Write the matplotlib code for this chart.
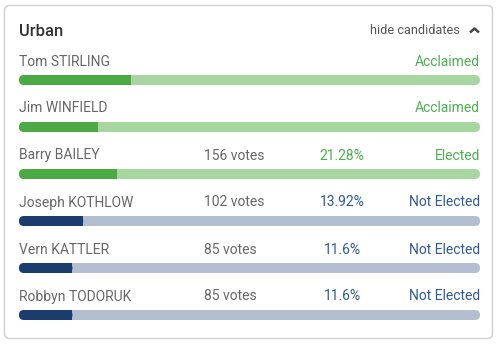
import matplotlib
matplotlib.use("Agg")
import matplotlib.pyplot as plt
from matplotlib.patches import FancyBboxPatch, Rectangle

plt.rcParams['font.family'] = ['Roboto', 'DejaVu Sans']

# Données
titre = "Urban"
candidats = ["Tom STIRLING", "Jim WINFIELD", "Barry BAILEY", "Joseph KOTHLOW", "Vern KATTLER", "Robbyn TODORUK"]
votes = [None, None, 156, 102, 85, 85]
pourcents = [24.3, 17.1, 21.28, 13.92, 11.6, 11.6]
pourcents_txt = [None, None, "21.28%", "13.92%", "11.6%", "11.6%"]
statuts = ["Acclaimed", "Acclaimed", "Elected", "Not Elected", "Not Elected", "Not Elected"]

# Couleurs
vert, vert_clair, vert_txt = "#4caa44", "#a8d6a1", "#4caf50"
bleu, bleu_clair, bleu_txt = "#1a3d6d", "#b3bfd1", "#2d5a94"
gris = "#666666"

fig = plt.figure(figsize=(4.99, 3.45), dpi=100)
ax = fig.add_axes([0, 0, 1, 1])
ax.set_xlim(0, 499)
ax.set_ylim(345, 0)
ax.axis("off")

# Carte
ax.add_patch(FancyBboxPatch((4.5, 5.5), 488, 333, boxstyle="round,pad=0,rounding_size=5",
                            fc="white", ec="#cfcfcf", lw=1.0))
ax.text(19, 31.5, titre, fontsize=12, fontweight="medium", color="#333333", va="center")
ax.text(460, 30.5, "hide candidates", fontsize=9.2, color="#555555", va="center", ha="right")
ax.plot([470, 474.5, 479], [32.5, 28.5, 32.5], color="#444444", lw=1.8, solid_capstyle="butt")

x0, x1 = 19, 480
larg = x1 - x0
h = 10
for i, nom in enumerate(candidats):
    y_txt = 61.5 + i * 47
    y_bar = y_txt + 13.5
    elu = statuts[i] != "Not Elected"
    c_fill, c_track, c_txt = (vert, vert_clair, vert_txt) if elu else (bleu, bleu_clair, bleu_txt)

    ax.text(x0, y_txt, nom, fontsize=10, color=gris, va="center")
    if votes[i] is not None:
        ax.text(204, y_txt, f"{votes[i]} votes", fontsize=10, color=gris, va="center")
        ax.text(342, y_txt, pourcents_txt[i], fontsize=10, color=c_txt, va="center", ha="center")
    ax.text(x1, y_txt, statuts[i], fontsize=10, color=c_txt, va="center", ha="right")

    ax.add_patch(FancyBboxPatch((x0, y_bar), larg, h, boxstyle="round,pad=0,rounding_size=5",
                                fc=c_track, ec="none"))
    xf = x0 + larg * pourcents[i] / 100
    ax.add_patch(FancyBboxPatch((x0, y_bar), xf - x0, h, boxstyle="round,pad=0,rounding_size=5",
                                fc=c_fill, ec="none"))
    ax.add_patch(Rectangle((x0 + 5, y_bar), xf - x0 - 5, h, fc=c_fill, ec="none"))

fig.savefig("out.png", dpi=100)
